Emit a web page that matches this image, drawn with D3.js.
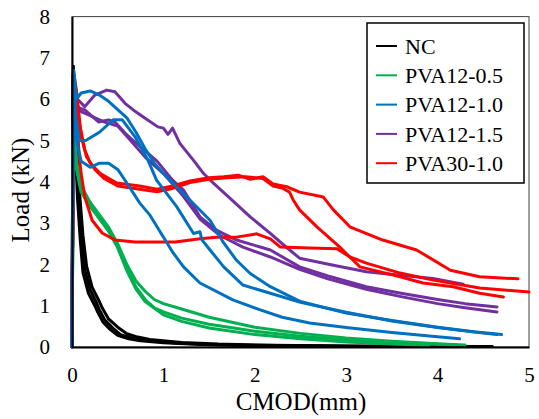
<!DOCTYPE html>
<html>
<head>
<meta charset="utf-8">
<script src="https://cdn.jsdelivr.net/npm/d3@7"></script>
<style>
  body { margin: 0; background: #fff; }
  svg { display: block; }
  svg text { font-family: "Liberation Serif", "Times New Roman", serif; }
</style>
</head>
<body>
<svg id="chart" width="539" height="419"></svg>
<script>
// series names + colours (legend order)
var seriesNames = ["NC", "PVA12-0.5", "PVA12-1.0", "PVA12-1.5", "PVA30-1.0"];
var seriesColors = ["#000000", "#00b050", "#0070c0", "#7030a0", "#ff0000"];
var xTicks = [0, 1, 2, 3, 4, 5];
var yTicks = [0, 1, 2, 3, 4, 5, 6, 7, 8];

// CMOD (mm), Load (kN), 3 specimens per mix
var nc1 = [[0,0],[0.005,3],[0.015,6.8],[0.03,5.6],[0.05,4.8],[0.066,4.29],[0.085,3.4],[0.106,2.67],[0.14,1.86],[0.2,1.38],[0.27,1.06],[0.3,0.9],[0.36,0.65],[0.45,0.45],[0.53,0.3],[0.65,0.22],[0.76,0.17],[1.1,0.1],[1.5,0.06],[2,0.04],[3,0.02],[4.5,0.01]];
var nc2 = [[0,0],[0.005,3],[0.015,6.7],[0.035,5.5],[0.06,4.5],[0.08,3.8],[0.12,2.7],[0.16,1.95],[0.22,1.45],[0.3,1.1],[0.33,0.95],[0.4,0.68],[0.5,0.48],[0.6,0.32],[0.72,0.24],[0.85,0.18],[1.2,0.11],[1.6,0.07],[2.2,0.04],[3.2,0.02],[4.3,0.01]];
var nc3 = [[0,0],[0.005,3],[0.012,6.6],[0.025,5.4],[0.045,4.4],[0.06,3.6],[0.09,2.6],[0.12,1.8],[0.18,1.3],[0.25,1.0],[0.28,0.85],[0.34,0.6],[0.42,0.42],[0.5,0.28],[0.62,0.2],[0.75,0.15],[1.0,0.1],[1.4,0.06],[2,0.03],[3,0.02],[4.6,0.01]];

var g1 = [[0,0],[0.01,3],[0.02,5.6],[0.05,4.5],[0.1,3.9],[0.2,3.5],[0.3,3.2],[0.4,2.9],[0.5,2.5],[0.6,2.0],[0.7,1.6],[0.8,1.35],[0.9,1.15],[1.0,1.05],[1.2,0.92],[1.5,0.72],[2,0.48],[2.5,0.33],[3,0.22],[3.5,0.14],[4,0.08],[4.3,0.05]];
var g2 = [[0,0],[0.01,3],[0.02,5.4],[0.05,4.4],[0.1,3.8],[0.2,3.45],[0.3,3.15],[0.4,2.85],[0.5,2.45],[0.6,1.9],[0.7,1.45],[0.8,1.15],[0.9,0.95],[1.0,0.85],[1.2,0.7],[1.5,0.55],[2,0.38],[2.5,0.26],[3,0.17],[3.5,0.1],[4.2,0.05]];
var g3 = [[0,0],[0.01,3],[0.02,5.2],[0.05,4.3],[0.1,3.75],[0.2,3.4],[0.3,3.1],[0.4,2.8],[0.5,2.4],[0.6,1.85],[0.7,1.4],[0.8,1.1],[1.0,0.78],[1.2,0.62],[1.5,0.46],[2,0.3],[2.5,0.2],[3,0.12],[3.5,0.07],[3.9,0.04]];

var b1 = [[0,0],[0.01,4],[0.02,6.7],[0.05,6.0],[0.1,6.15],[0.2,6.2],[0.3,6.1],[0.4,5.95],[0.5,5.75],[0.6,5.55],[0.7,5.2],[0.8,4.8],[0.9,4.45],[1.0,4.2],[1.07,4.04],[1.29,3.56],[1.51,3.07],[1.66,2.52],[1.8,2.1],[1.95,1.78],[2.17,1.46],[2.5,1.1],[3,0.82],[3.5,0.64],[4,0.48],[4.4,0.37],[4.7,0.3]];
var b2 = [[0,0],[0.01,4],[0.02,6.6],[0.04,5.6],[0.08,5.0],[0.15,5.0],[0.3,5.2],[0.45,5.5],[0.55,5.5],[0.69,5.09],[0.83,4.53],[0.925,4.04],[1.145,3.4],[1.33,2.75],[1.4,2.79],[1.42,2.6],[1.51,2.35],[1.66,1.94],[1.87,1.5],[2.17,1.3],[2.5,1.08],[3,0.84],[3.5,0.63],[4,0.47],[4.4,0.36],[4.65,0.3]];
var b3 = [[0,0],[0.01,4],[0.02,6.5],[0.05,5.0],[0.1,4.5],[0.2,4.35],[0.3,4.45],[0.4,4.45],[0.5,4.3],[0.6,3.97],[0.74,3.49],[0.85,3.2],[0.93,2.91],[1.04,2.52],[1.1,2.3],[1.22,1.94],[1.4,1.55],[1.76,1.14],[2.06,0.9],[2.3,0.72],[2.6,0.58],[3,0.47],[3.5,0.35],[4,0.25],[4.24,0.2]];

var p1 = [[0,0],[0.01,4],[0.02,6.5],[0.06,6.0],[0.14,5.82],[0.25,6.1],[0.38,6.22],[0.47,6.18],[0.58,5.9],[0.67,5.74],[0.8,5.54],[0.94,5.33],[1.0,5.3],[1.05,5.15],[1.1,5.3],[1.18,4.93],[1.33,4.52],[1.44,4.2],[1.55,3.96],[1.73,3.6],[1.95,3.15],[2.17,2.75],[2.3,2.5],[2.49,2.15],[2.86,1.98],[3.22,1.82],[3.59,1.74],[3.95,1.66],[4.28,1.52]];
var p2 = [[0,0],[0.01,4],[0.02,6.3],[0.06,5.8],[0.14,5.74],[0.29,5.45],[0.4,5.5],[0.47,5.45],[0.58,5.18],[0.67,5.0],[0.8,4.75],[0.93,4.5],[1.1,4.04],[1.22,3.8],[1.4,3.15],[1.58,2.83],[1.8,2.59],[2.06,2.42],[2.17,2.35],[2.49,1.94],[2.8,1.72],[3.22,1.46],[3.6,1.3],[4.0,1.15],[4.3,1.05],[4.65,0.97]];
var p3 = [[0,0],[0.01,4],[0.02,6.0],[0.1,5.7],[0.2,5.6],[0.35,5.45],[0.5,5.35],[0.6,5.1],[0.8,4.6],[1.0,4.2],[1.2,3.7],[1.4,3.1],[1.62,2.7],[1.87,2.42],[2.17,2.18],[2.49,1.88],[2.8,1.65],[3.22,1.4],[3.6,1.22],[4.0,1.05],[4.3,0.95],[4.65,0.85]];

var r1 = [[0,0],[0.01,4],[0.02,6.6],[0.05,6.2],[0.09,5.33],[0.14,4.77],[0.2,4.45],[0.31,4.2],[0.49,3.97],[0.74,3.9],[0.93,3.82],[1.1,3.9],[1.29,4.02],[1.5,4.1],[1.66,4.12],[1.82,4.16],[1.95,4.06],[2.09,4.12],[2.2,3.95],[2.35,3.88],[2.49,3.75],[2.75,3.63],[2.86,3.32],[3.04,2.91],[3.4,2.59],[3.77,2.35],[4.14,1.86],[4.46,1.7],[4.88,1.65]];
var r2 = [[0,0],[0.01,4],[0.02,6.5],[0.06,5.8],[0.1,5.1],[0.16,4.6],[0.25,4.3],[0.35,4.08],[0.5,3.9],[0.74,3.82],[0.93,3.76],[1.1,3.84],[1.29,3.98],[1.5,4.06],[1.7,4.1],[1.9,4.12],[2.09,4.08],[2.2,3.9],[2.3,3.85],[2.38,3.75],[2.42,3.56],[2.49,3.32],[2.68,2.91],[2.93,2.42],[3.04,2.18],[3.15,1.94],[3.59,1.7],[3.84,1.55],[4.17,1.46],[4.46,1.3],[4.72,1.21]];
var r3 = [[0,0],[0.01,4],[0.02,6.3],[0.05,5.6],[0.08,4.6],[0.1,4.2],[0.14,3.63],[0.22,3.07],[0.33,2.76],[0.47,2.59],[0.69,2.54],[1.13,2.54],[1.4,2.62],[1.58,2.66],[1.8,2.66],[2.02,2.74],[2.17,2.62],[2.28,2.42],[2.6,2.4],[2.9,2.38],[3.04,2.18],[3.22,2.03],[3.59,1.79],[3.95,1.62],[4.46,1.43],[5.0,1.33]];

// draw order: blue ends up on top like in the original
var curves = [
  {s: 0, d: nc1}, {s: 0, d: nc2}, {s: 0, d: nc3},
  {s: 1, d: g1}, {s: 1, d: g2}, {s: 1, d: g3},
  {s: 3, d: p1}, {s: 3, d: p2}, {s: 3, d: p3},
  {s: 4, d: r1}, {s: 4, d: r2}, {s: 4, d: r3},
  {s: 2, d: b1}, {s: 2, d: b2}, {s: 2, d: b3}
];

var serif = "'Liberation Serif', 'Times New Roman', serif";

var svg = d3.select("#chart").attr("font-family", serif),
    margin = {top: 16.6, right: 10, bottom: 72, left: 72},
    width = +svg.attr("width") - margin.left - margin.right,
    height = +svg.attr("height") - margin.top - margin.bottom,
    g = svg.append("g").attr("transform", "translate(" + margin.left + "," + margin.top + ")");

var x = d3.scaleLinear().domain([0, 5]).range([0, width]),
    y = d3.scaleLinear().domain([0, 8]).range([height, 0]);

// plot frame
g.append("rect")
    .attr("width", width).attr("height", height)
    .attr("fill", "none").attr("stroke", "#404040").attr("stroke-width", 1);

var line = d3.line()
    .x(function(d) { return x(d[0]); })
    .y(function(d) { return y(d[1]); });

g.selectAll(".curve")
    .data(curves)
  .enter().append("path")
    .attr("class", "curve")
    .attr("d", function(d) { return line(d.d); })
    .attr("fill", "none")
    .attr("stroke", function(d) { return seriesColors[d.s]; })
    .attr("stroke-width", 3)
    .attr("stroke-linejoin", "round")
    .attr("stroke-linecap", "round");

// axes
var xAxis = g.append("g")
    .attr("transform", "translate(0," + height + ")")
    .call(d3.axisBottom(x).tickValues(xTicks).tickSize(0).tickPadding(20).tickFormat(d3.format("d")));
var yAxis = g.append("g")
    .call(d3.axisLeft(y).tickValues(yTicks).tickSize(0).tickPadding(22).tickFormat(d3.format("d")));

[xAxis, yAxis].forEach(function(a) {
  a.attr("font-family", serif).attr("font-size", 21);
  a.select(".domain").attr("stroke", "#000").attr("stroke-width", 2);
  a.selectAll("text").attr("fill", "#000");
});

svg.append("text")
    .attr("x", 301).attr("y", 410)
    .attr("text-anchor", "middle")
    .attr("font-size", 25)
    .text("CMOD(mm)");

svg.append("text")
    .attr("transform", "translate(29,190) rotate(-90)")
    .attr("text-anchor", "middle")
    .attr("font-size", 25)
    .text("Load (kN)");

// legend
var legend = svg.append("g").attr("transform", "translate(367,23)");
legend.append("rect")
    .attr("width", 157).attr("height", 160)
    .attr("fill", "#fff").attr("stroke", "#000").attr("stroke-width", 1.5);

var item = legend.selectAll(".item")
    .data(seriesNames)
  .enter().append("g")
    .attr("class", "item")
    .attr("transform", function(d, i) { return "translate(0," + (23 + i * 29.3) + ")"; });

item.append("line")
    .attr("x1", 9).attr("x2", 30)
    .attr("stroke", function(d, i) { return seriesColors[i]; })
    .attr("stroke-width", 2);

item.append("text")
    .attr("x", 38).attr("dy", "0.35em")
    .attr("font-size", 22)
    .text(function(d) { return d; });
</script>
</body>
</html>
